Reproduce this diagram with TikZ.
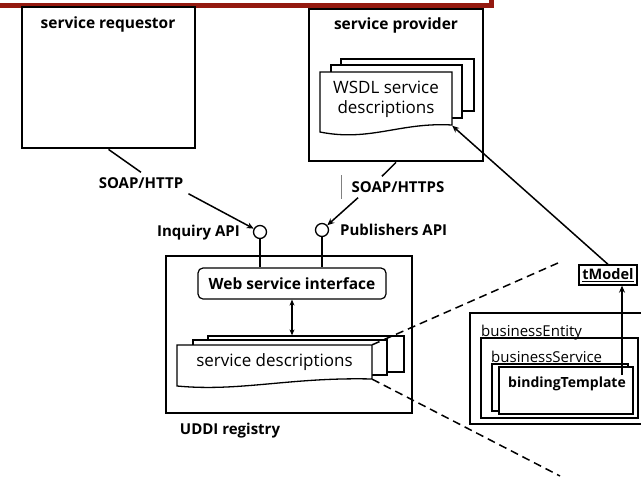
\documentclass[tikz,border=0pt]{standalone}
\usepackage{fontspec}
\setmainfont{Open Sans}
\usetikzlibrary{arrows.meta,calc}
\definecolor{colBar}{rgb}{.58,.1,.06}
\tikzstyle{box}=[draw, line width=2.8pt, inner sep=0pt]
\tikzstyle{frame}=[draw, line width=1.3pt, fill=white, inner sep=0pt]
\tikzstyle{lbl}=[font=\bfseries\fontsize{15}{17}\selectfont, inner sep=0pt]
\tikzstyle{title}=[font=\bfseries\fontsize{15.5}{18}\selectfont, inner sep=0pt]
\tikzstyle{doctext}=[align=center, inner sep=0pt]
\tikzstyle{port}=[circle, draw, line width=1.3pt, fill=white, minimum size=13pt, inner sep=0pt]
\tikzstyle{conn}=[line width=1.5pt]
\tikzstyle{arr}=[conn, -{Stealth[length=7pt,width=6pt]}]
\tikzstyle{darr}=[conn, {Stealth[length=6pt,width=5pt]}-{Stealth[length=6pt,width=5pt]}]
\tikzstyle{dashline}=[line width=1.5pt, dash pattern=on 8pt off 5pt]

\begin{document}
\begin{tikzpicture}[x=1pt,y=-1pt]
	\useasboundingbox (0,0) rectangle (641,477);
	\clip (0,0) rectangle (641,477);
	% red bar at the top
	\draw[colBar, line width=5pt] (-10,5.5) -- (491.5,5.5) -- (491.5,-10);

	% requestor and provider
	\node[box, minimum width=173pt, minimum height=141pt] (req) at (108.5,77.5) {};
	\node[title] (reqname) at (108,24) {service requestor};
	\node[box, minimum width=174pt, minimum height=152pt] (prov) at (396,85) {};
	\node[title] (provname) at (396,25) {service provider};

	% WSDL document stack
	\node[frame, minimum width=133pt, minimum height=52pt] (wsdl3) at (407.5,85) {};
	\node[frame, minimum width=131pt, minimum height=53pt] (wsdl2) at (396.5,91.5) {};
	\draw[frame] (320,72) -- (452,72) -- (452,125) .. controls (400,122) and (370,142) .. (320,132) -- cycle;
	\node[doctext, minimum width=132pt, minimum height=53pt, font=\fontsize{17}{20}\selectfont] (wsdl) at (386,99) {WSDL service\\descriptions};

	% SOAP links
	\node[lbl, inner sep=5pt] (soap1) at (141,183) {SOAP/HTTP};
	\node[lbl, inner sep=5pt] (soap2) at (398,187) {SOAP/HTTPS};
	\draw[gray, line width=0.6pt] (341,175) -- (341,199);

	% UDDI registry
	\node[draw, line width=1.5pt, minimum width=246pt, minimum height=157pt] (uddi) at (289,334.5) {};
	\node[lbl] (uddiname) at (230,431) {UDDI registry};
	\node[draw, line width=1.2pt, rounded corners=5pt, minimum width=188pt, minimum height=31pt, font=\bfseries\fontsize{15.5}{18}\selectfont] (wsi) at (292,283.5) {Web service interface};

	\node[port] (inq) at (260,232) {};
	\node[lbl, anchor=east] (inqname) at (240,233) {Inquiry API};
	\node[port] (pub) at (322,230) {};
	\node[lbl, anchor=west] (pubname) at (340,230) {Publishers API};

	\draw[conn] (req.south) -- (soap1.north);
	\draw[arr] (soap1.south east) -- (inq);
	\draw[conn] (prov.south) -- ($(soap2.north)+(-16,0)$);
	\draw[arr] (soap2.195) -- (pub);
	\draw[line width=1.3pt] (inq.south) -- (inq |- wsi.north);
	\draw[line width=1.3pt] (pub.south) -- (pub |- wsi.north);

	% service description stack
	\node[frame, minimum width=196pt, minimum height=36pt] (sd3) at (306,354) {};
	\node[frame, minimum width=194pt, minimum height=35pt] (sd2) at (290,357.5) {};
	\draw[frame] (177,345) -- (372,345) -- (372,379) .. controls (290,377) and (240,392) .. (177,386) -- cycle;
	\node[doctext, minimum width=195pt, minimum height=34pt, font=\fontsize{17}{20}\selectfont] (sd) at (274.5,362) {service descriptions};
	\draw[darr] (wsi.south) -- (wsi.south |- sd3.north);

	% zoomed view of an entry
	\coordinate (zoomtop) at (558,263);
	\coordinate (zoombot) at (560,476);
	\draw[dashline] (sd.north east) -- (zoomtop);
	\draw[dashline] (sd.south east) -- (zoombot);

	\node[draw, line width=1.3pt, minimum width=190pt, minimum height=111pt] (be) at (565,368.5) {};
	\node[anchor=west, inner sep=0pt, font=\fontsize{15}{17}\selectfont] (bename) at (481,333) {businessEntity};
	\node[draw, line width=1.3pt, minimum width=157pt, minimum height=80pt] (bs) at (559.5,378) {};
	\node[anchor=west, inner sep=0pt, font=\fontsize{15}{17}\selectfont] (bsname) at (491,357) {businessService};
	\node[frame, minimum width=136pt, minimum height=47pt] (bt2) at (560,387.5) {};
	\node[frame, minimum width=134pt, minimum height=47pt] (bt) at (566,390.5) {};
	\node[lbl, font=\bfseries\fontsize{14}{16}\selectfont] (btname) at (567,384) {bindingTemplate};

	\node[draw, line width=1.3pt, minimum width=58pt, minimum height=20pt, inner sep=0pt, font=\bfseries\fontsize{14.5}{16}\selectfont] (tm) at (608,275) {\underline{tModel}};
	\coordinate (btout) at (622,375);
	\draw[arr] (btout) -- (btout |- tm.south);
	\draw[arr] (tm.north) -- (wsdl.south east);
\end{tikzpicture}
\end{document}
